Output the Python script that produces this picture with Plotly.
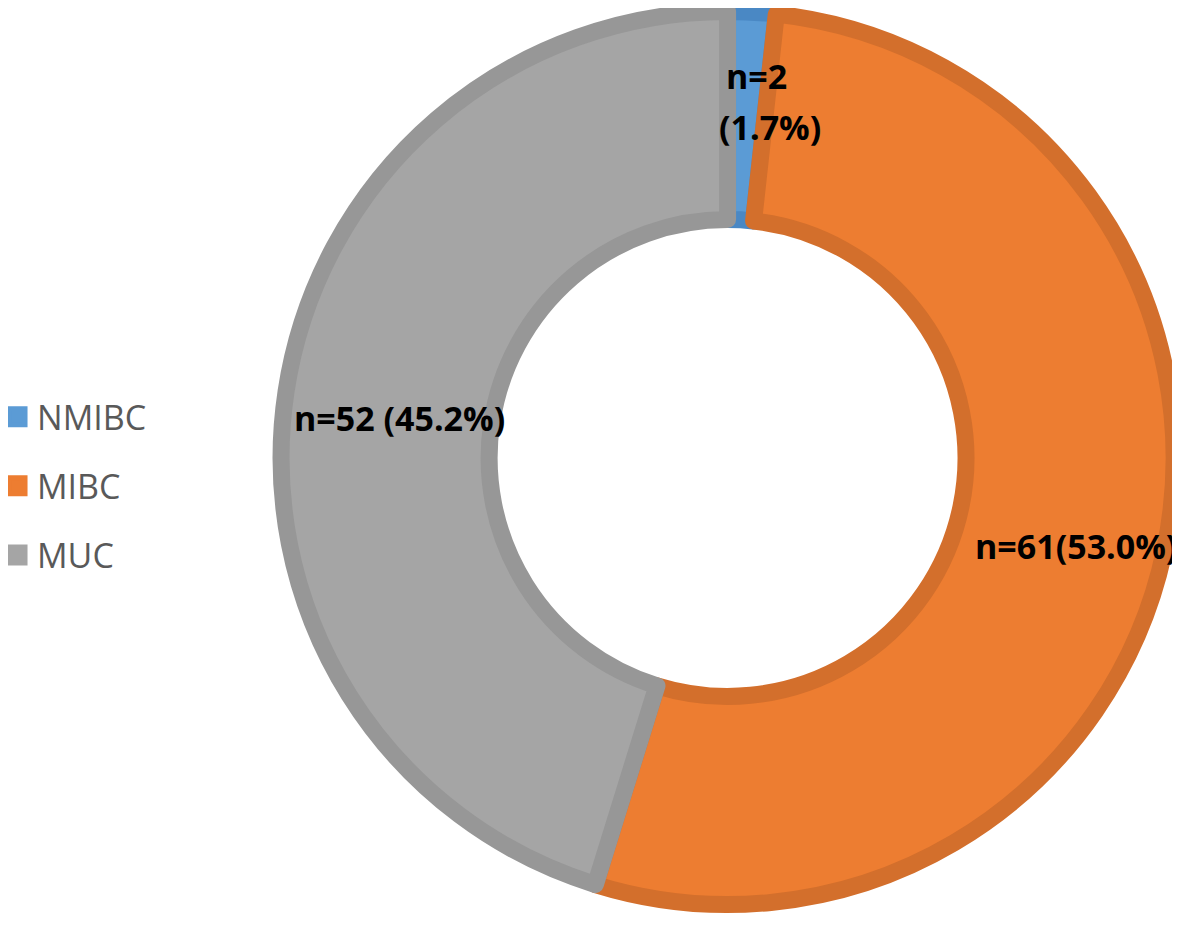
import plotly.graph_objects as go

categories = ["NMIBC", "MIBC", "MUC"]
counts = [2, 61, 52]
percents = [1.7, 53.0, 45.2]
fill_colors = ["#5B9BD5", "#ED7D31", "#A5A5A5"]
border_colors = ["#4A88C4", "#D36F2C", "#979797"]

fig = go.Figure()

fig.add_trace(go.Pie(
    labels=categories,
    values=counts,
    sort=False,
    direction="clockwise",
    rotation=0,
    hole=0.534,
    textinfo="none",
    showlegend=False,
    marker=dict(colors=fill_colors, line=dict(color=border_colors, width=17)),
    domain=dict(x=[0.2314, 0.9882], y=[0.0290, 0.9980]),
))

# legend entries
for i, (cat, col) in enumerate(zip(categories, fill_colors)):
    fig.add_trace(go.Scatter(
        x=[None], y=[None], mode="markers", name=cat,
        legendgroup=f"g{i}",
        marker=dict(symbol="square", size=16, color=col, line=dict(color=col, width=5)),
    ))

label_font = dict(family="Open Sans, sans-serif", size=34, color="#000000")

# label texts built from data
nm_line1 = f"<b>n={counts[0]}</b>"
nm_line2 = f"<b>({percents[0]:.1f}%)</b>"
mibc_text = f"<b>n={counts[1]}({percents[1]:.1f}%)</b>"
muc_text = f"<b>n={counts[2]} ({percents[2]:.1f}%)</b>"

common = dict(xref="paper", yref="paper", showarrow=False, font=label_font,
              xanchor="center", yanchor="middle")
fig.add_annotation(x=0.6347, y=0.9265, text=nm_line1, **common)
fig.add_annotation(x=0.6458, y=0.8714, text=nm_line2, **common)
fig.add_annotation(x=0.905, y=0.4184, text=mibc_text, **common)
fig.add_annotation(x=0.3322, y=0.5568, text=muc_text, **common)

fig.update_layout(
    width=1180, height=925,
    margin=dict(l=0, r=0, t=0, b=0, autoexpand=False),
    paper_bgcolor="white", plot_bgcolor="white",
    xaxis=dict(visible=False), yaxis=dict(visible=False),
    legend=dict(
        x=-0.0093, y=0.4832, xanchor="left", yanchor="middle",
        font=dict(family="Open Sans, sans-serif", size=34, color="#595959"),
        tracegroupgap=22, bgcolor="rgba(0,0,0,0)",
    ),
)

fig.write_html("out.html")
